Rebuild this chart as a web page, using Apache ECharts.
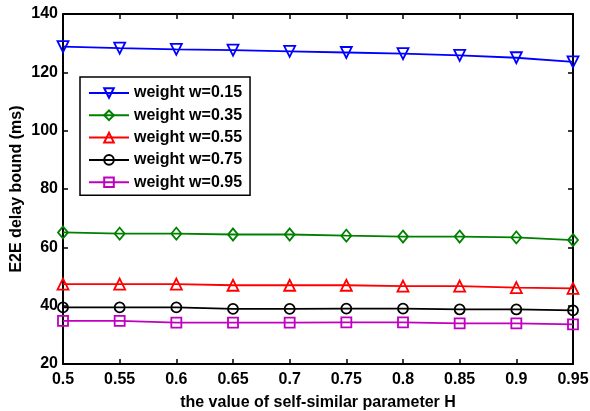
<!DOCTYPE html>
<html><head><meta charset="utf-8">
<script src="https://cdn.jsdelivr.net/npm/echarts@6/dist/echarts.min.js"></script>
<style>html,body{margin:0;padding:0;background:#fff}#c{width:590px;height:411px}</style>
</head><body><div id="c"></div>
<script>
const hValues = ['0.5','0.55','0.6','0.65','0.7','0.75','0.8','0.85','0.9','0.95'];
const yTicks = [20, 140, 20]; // min, max, interval
const w015 = [128.8, 128.3, 127.9, 127.6, 127.2, 126.8, 126.4, 125.8, 125.0, 123.6];
const w035 = [65.1, 64.7, 64.7, 64.4, 64.4, 64.0, 63.7, 63.7, 63.4, 62.5];
const w055 = [47.4, 47.4, 47.4, 47.0, 47.0, 47.0, 46.7, 46.7, 46.2, 45.9];
const w075 = [39.4, 39.4, 39.4, 38.9, 38.9, 39.0, 39.0, 38.7, 38.7, 38.4];
const w095 = [34.8, 34.8, 34.2, 34.2, 34.2, 34.3, 34.3, 33.9, 33.9, 33.6];
const seriesNames = ['weight w=0.15','weight w=0.35','weight w=0.55','weight w=0.75','weight w=0.95'];

const FONT = '"Liberation Sans", Arial, sans-serif';
const chart = echarts.init(document.getElementById('c'), null, {renderer:'canvas'});
function mk(name, data, color, symbol, size, rot) {
  return {
    name, type:'line', data, xAxisIndex:0, yAxisIndex:0,
    symbol, symbolSize:size, symbolRotate:rot||0, showAllSymbol:true,
    lineStyle:{color, width:1.8},
    itemStyle:{color:'rgba(255,255,255,0)', borderColor:color, borderWidth:1.8},
    emphasis:{disabled:true}, animation:false
  };
}
const axisLine = {show:true, onZero:false, lineStyle:{color:'#000', width:2}};
const tick = {show:true, inside:true, length:5, lineStyle:{color:'#000', width:1.5}};
chart.setOption({
  animation:false,
  grid:{left:63, right:17, top:14, bottom:47, containLabel:false, outerBoundsMode:'none'},
  legend:{
    orient:'vertical', left:80, top:77,
    data:seriesNames,
    backgroundColor:'#fff', borderColor:'#000', borderWidth:1.5,
    padding:[8,8,5,8], itemWidth:40, itemHeight:12, itemGap:6.3,
    textStyle:{fontFamily:FONT, fontWeight:'bold', fontSize:16, color:'#000'}
  },
  xAxis:[{
    type:'category', data:hValues, boundaryGap:false, position:'bottom',
    name:'the value of self-similar parameter H', nameLocation:'middle', nameGap:31,
    nameMoveOverlap:false,
    nameTextStyle:{fontFamily:FONT, fontWeight:'bold', fontSize:16, color:'#000'},
    axisLine, axisTick:Object.assign({alignWithLabel:true}, tick),
    axisLabel:{fontFamily:FONT, fontWeight:'bold', fontSize:16, color:'#000', margin:8, interval:0},
    splitLine:{show:false}
  },{
    type:'category', data:hValues, boundaryGap:false, position:'top',
    axisLine, axisTick:tick, axisLabel:{show:false}, splitLine:{show:false}
  }],
  yAxis:[{
    type:'value', min:yTicks[0], max:yTicks[1], interval:yTicks[2], position:'left',
    name:'E2E delay bound (ms)', nameLocation:'middle', nameGap:38,
    nameMoveOverlap:false,
    nameTextStyle:{fontFamily:FONT, fontWeight:'bold', fontSize:16, color:'#000'},
    axisLine, axisTick:tick,
    axisLabel:{fontFamily:FONT, fontWeight:'bold', fontSize:16, color:'#000', margin:5},
    splitLine:{show:false}
  },{
    type:'value', min:yTicks[0], max:yTicks[1], interval:yTicks[2], position:'right',
    axisLine, axisTick:tick, axisLabel:{show:false}, splitLine:{show:false}
  }],
  series:[
    mk(seriesNames[0], w015, '#0000ff', 'triangle', 11, 180),
    mk(seriesNames[1], w035, '#008000', 'diamond', [10,12]),
    mk(seriesNames[2], w055, '#ff0000', 'triangle', 11),
    mk(seriesNames[3], w075, '#000000', 'circle', 10),
    mk(seriesNames[4], w095, '#bf00bf', 'rect', 10)
  ]
});
</script></body></html>
